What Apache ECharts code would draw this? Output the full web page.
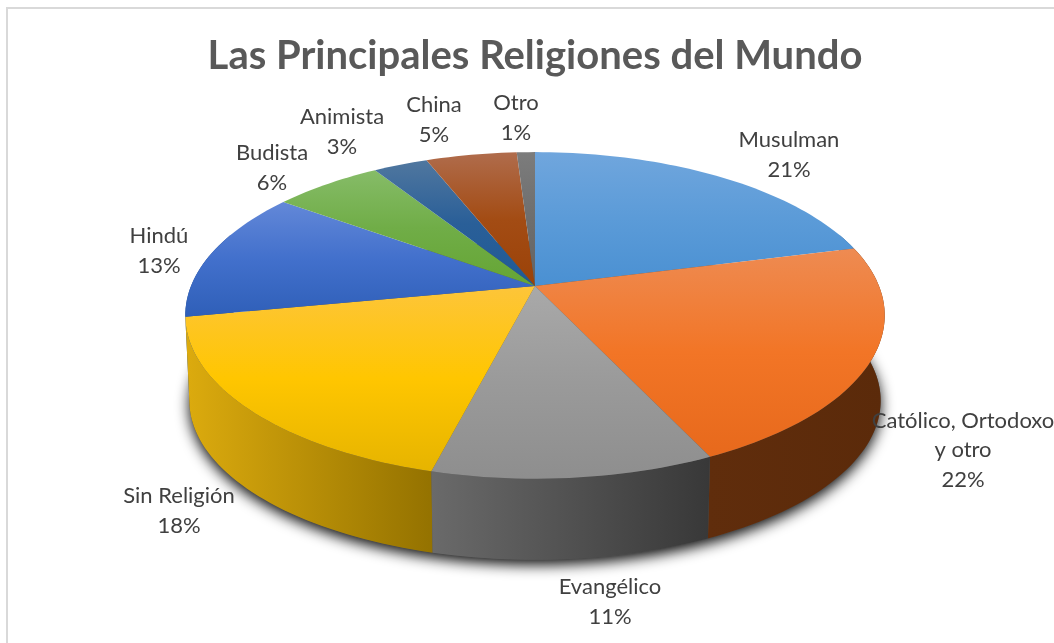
<!DOCTYPE html>
<html>
<head>
<meta charset="utf-8">
<style>html,body{margin:0;padding:0;background:#fff}#c{width:1054px;height:643px}</style>
<script src="https://cdn.jsdelivr.net/npm/echarts@6/dist/echarts.min.js"></script>
</head>
<body>
<div id="c"></div>
<script>
const chartTitle = 'Las Principales Religiones del Mundo';
const categories = ['Musulman','Católico, Ortodoxo\ny otro','Evangélico','Sin Religión','Hindú','Budista','Animista','China','Otro'];
const values = [21,22,11,18,13,6,3,5,1];

// Styling of the slices (light, base, dark of the top face; left, right of the wall)
const topLight = ['#70a6dd','#ee8b52','#a9a9a9','#fdc53a','#6388d8','#86bc68','#50779f','#b06c4c','#7c7c7c'];
const topBase  = ['#5b9bd8','#f27526','#9a9a9a','#ffc600','#4270cc','#70ad47','#2a5f98','#a34c14','#6e6e6e'];
const topDark  = ['#4a90d2','#e7691c','#8e8e8e','#e6b400','#2f5fb8','#65a534','#1f5a96','#9b4208','#636363'];
const wallLeft  = ['#2a5f8f','#602d0c','#6a6a6a','#dcab0e','#234a88','#4a7a30','#1a4068','#6d3008','#4a4a4a'];
const wallRight = ['#2a5f8f','#5b2a0a','#383838','#947200','#234a88','#4a7a30','#1a4068','#6d3008','#4a4a4a'];

// Label centres (x, y of the label block)
const labelAnchors = [[789,155],[963,450],[610,602],[179,511],[159,251],[272,168],[342,132],[434,120],[516,118]];

// Projection of the tilted disc
const pie = {cx:535, cy:286, R:344, S:158, k:0.18};
const base = {cx:535, cy:372, R:340, S:154, k:0.18};
function project(p, deg){
  const t = deg*Math.PI/180, u = Math.sin(t), v = Math.cos(t), w = 1 + p.k*v;
  return [p.cx + p.R*u/w, p.cy - p.S*v/w];
}
function arc(p, a, b){
  const pts = [], n = Math.max(2, Math.ceil(Math.abs(b-a)/1.5));
  for (let i=0;i<=n;i++) pts.push(project(p, a+(b-a)*i/n));
  return pts;
}
const total = values.reduce((s,x)=>s+x,0);
function bounds(i){
  let c = 0;
  for (let j=0;j<i;j++) c += values[j];
  return [c/total*360, (c+values[i])/total*360];
}
const WALL_FROM = 70, WALL_TO = 290;
const midCos = i => { const [a,b] = bounds(i); return Math.cos((a+b)/2*Math.PI/180); };
const wallOrder = categories.map((_,i)=>i)
  .filter(i=>{const [a,b]=bounds(i);return b>WALL_FROM && a<WALL_TO;})
  .sort((x,y)=>midCos(y)-midCos(x));

const G = echarts.graphic;
const option = {
  backgroundColor:'#fff',
  animation:false,
  title:{text:chartTitle,left:530,top:31,textAlign:'center',
    textStyle:{fontFamily:'Lato',fontWeight:'bold',fontSize:40,color:'#595959'}},
  graphic:[{type:'rect',z:-10,shape:{x:7,y:8,width:1200,height:800},
    style:{fill:'#fff',stroke:'#d9d9d9',lineWidth:2},silent:true}],
  xAxis:{show:false},yAxis:{show:false},
  series:[
    { // soft shadow under the base of the disc
      type:'custom',coordinateSystem:'none',silent:true,z:1,
      data:[[total]],
      renderItem(){
        return {type:'polygon',shape:{points:arc(base,0,360)},
          style:{fill:'#555',shadowBlur:14,shadowColor:'rgba(0,0,0,0.95)',shadowOffsetY:5}};
      }
    },
    { // side walls
      type:'custom',coordinateSystem:'none',silent:true,z:2,
      data:wallOrder.map(i=>[i,values[i]]),
      renderItem(params,api){
        const i = api.value(0), [a0,b0] = bounds(i);
        const a = Math.max(a0,WALL_FROM), b = Math.min(b0,WALL_TO);
        const pts = arc(pie,a,b).concat(arc(base,b,a));
        return {type:'polygon',shape:{points:pts},
          style:{fill:new G.LinearGradient(0,0,1,0,[
            {offset:0,color:wallLeft[i]},{offset:1,color:wallRight[i]}])}};
      }
    },
    { // top faces
      type:'custom',coordinateSystem:'none',silent:true,z:3,
      data:categories.map((c,i)=>[i,values[i]]),
      renderItem(params,api){
        const i = api.value(0), [a,b] = bounds(i);
        const pts = [[pie.cx,pie.cy]].concat(arc(pie,a,b));
        return {type:'polygon',shape:{points:pts},
          style:{fill:new G.LinearGradient(0,0,0,1,[
            {offset:0,color:topLight[i]},{offset:0.5,color:topBase[i]},{offset:1,color:topDark[i]}])}};
      }
    },
    { // labels
      type:'custom',coordinateSystem:'none',silent:true,z:4,
      data:categories.map((c,i)=>[i,values[i]]),
      renderItem(params,api){
        const i = api.value(0);
        return {type:'text',x:labelAnchors[i][0],y:labelAnchors[i][1],
          style:{text:categories[i]+'\n'+api.value(1)+'%',align:'center',verticalAlign:'middle',
            fontFamily:'Lato',fontSize:22,lineHeight:29.5,fill:'#404040'}};
      }
    }
  ]
};
const chart = echarts.init(document.getElementById('c'),null,{renderer:'canvas'});
chart.setOption(option);
</script>
</body>
</html>
